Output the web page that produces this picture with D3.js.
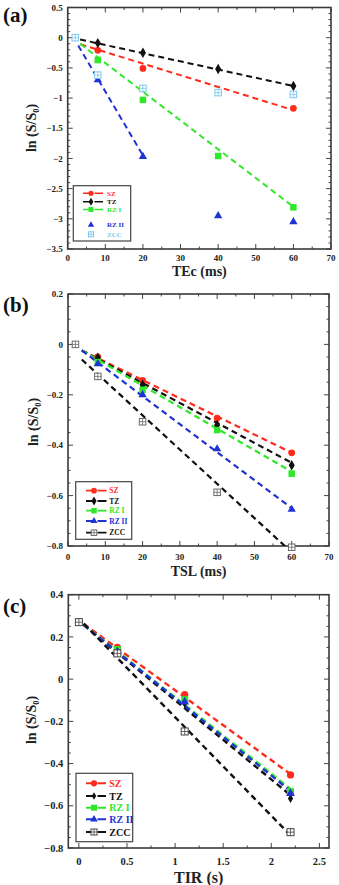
<!DOCTYPE html>
<html>
<head>
<meta charset="utf-8">
<script src="https://cdn.jsdelivr.net/npm/d3@7"></script>
<style>
  body { margin: 0; background: #fff; }
  text { font-family: "Liberation Serif", "DejaVu Serif", serif; font-weight: bold; }
</style>
</head>
<body>
<svg id="fig"></svg>
<script>
const W = 339, H = 885;

const seriesNames = ["SZ", "TZ", "RZ I", "RZ II", "ZCC"];

// panel (a) - TEc
const teX = [2, 8, 20, 40, 60];
const teSZ = [null, -0.21, -0.51, null, -1.17];
const teTZ = [null, -0.09, -0.25, -0.52, -0.80];
const teRZ1 = [null, -0.37, -1.03, -1.96, -2.81];
const teRZ2 = [null, -0.70, -1.97, -2.95, -3.05];
const teZCC = [0, -0.62, -0.84, -0.91, -0.94];
const teFitSZ = [[3.4, -0.11], [60, -1.20]];
const teFitTZ = [[3.3, -0.03], [60, -0.80]];
const teFitRZ1 = [[3.3, -0.10], [60, -2.80]];
const teFitRZ2 = [[2.8, -0.13], [20, -1.95]];
const teXTicks = [0, 10, 20, 30, 40, 50, 60, 70];
const teYTicks = [0.5, 0, -0.5, -1, -1.5, -2, -2.5, -3, -3.5];

// panel (b) - TSL
const tslX = [2, 8, 20, 40, 60];
const tslSZ = [null, -0.05, -0.143, -0.293, -0.43];
const tslTZ = [null, -0.053, -0.16, -0.32, -0.48];
const tslRZ1 = [null, -0.07, -0.18, -0.34, -0.513];
const tslRZ2 = [null, -0.077, -0.20, -0.415, -0.655];
const tslZCC = [0, -0.127, -0.307, -0.587, -0.805];
const tslFitSZ = [[3.7, -0.024], [60, -0.43]];
const tslFitTZ = [[3.7, -0.024], [60, -0.47]];
const tslFitRZ1 = [[3.7, -0.024], [60, -0.505]];
const tslFitRZ2 = [[3.7, -0.024], [60, -0.65]];
const tslFitZCC = [[3.7, -0.06], [60, -0.825]];
const tslXTicks = [0, 10, 20, 30, 40, 50, 60, 70];
const tslYTicks = [0.2, 0, -0.2, -0.4, -0.6, -0.8];

// panel (c) - TIR
const tirX = [0, 0.4, 1.1, 2.2];
const tirSZ = [null, 0.15, -0.073, -0.454];
const tirTZ = [null, 0.125, -0.115, -0.565];
const tirRZ1 = [null, 0.14, -0.097, -0.533];
const tirRZ2 = [null, 0.13, -0.108, -0.541];
const tirZCC = [0.27, 0.122, -0.248, -0.725];
const tirFitSZ = [[0.05, 0.262], [2.2, -0.45]];
const tirFitTZ = [[0.05, 0.256], [2.2, -0.55]];
const tirFitRZ1 = [[0.05, 0.258], [2.2, -0.52]];
const tirFitRZ2 = [[0.05, 0.257], [2.2, -0.53]];
const tirFitZCC = [[0.05, 0.263], [2.2, -0.74]];
const tirXTicks = [0, 0.5, 1, 1.5, 2, 2.5];
const tirXLabels = ["0", "0.5", "1", "1.5", "2", "2.5"];
const tirYTicks = [0.4, 0.2, 0, -0.2, -0.4, -0.6, -0.8];

const red = "#ff2b1c", green = "#2fe82a", blue = "#1f33d4", cyan = "#7cc9ec", gray = "#6a6a6a";

const svg = d3.select("#fig").attr("width", W).attr("height", H);

function marker(g, kind, x, y, size, color) {
  if (kind === "zcc") {
    const s = size;
    const m = g.append("g").attr("transform", `translate(${x},${y})`);
    m.append("rect").attr("x", -s / 2).attr("y", -s / 2).attr("width", s).attr("height", s)
      .attr("fill", "#fff").attr("stroke", color).attr("stroke-width", 1);
    m.append("path").attr("d", `M${-s / 2},0H${s / 2}M0,${-s / 2}V${s / 2}`)
      .attr("stroke", color).attr("stroke-width", 0.8);
    return;
  }
  const types = { circle: d3.symbolCircle, diamond: d3.symbolDiamond, square: d3.symbolSquare, triangle: d3.symbolTriangle };
  const area = { circle: size * size * 0.85, diamond: size * size * 0.75, square: size * size, triangle: size * size * 0.7 };
  g.append("path")
    .attr("d", d3.symbol().type(types[kind]).size(area[kind])())
    .attr("transform", `translate(${x},${y})`)
    .attr("fill", color);
}

function drawPanel(p) {
  const g = svg.append("g");
  const x = d3.scaleLinear().domain(p.xDomain).range([p.left, p.right]);
  const y = d3.scaleLinear().domain(p.yDomain).range([p.bottom, p.top]);

  const clipId = "clip" + p.id;
  svg.append("clipPath").attr("id", clipId)
    .append("rect").attr("x", p.left).attr("y", p.top)
    .attr("width", p.right - p.left).attr("height", p.bottom - p.top);

  // minor + major ticks, inward on all four sides
  const tk = g.append("g").attr("stroke", "#444").attr("stroke-width", 1);
  const xMinor = d3.range(p.xDomain[0], p.xDomain[1] + 1e-9, p.xMinor)
    .map(v => Math.round(v / p.xMinor) * p.xMinor).filter(v => v >= p.xDomain[0] && v <= p.xDomain[1]);
  const yMinor = d3.range(p.yDomain[0], p.yDomain[1] + 1e-9, p.yMinor);
  xMinor.forEach(v => {
    const major = p.xTicks.some(t => Math.abs(t - v) < 1e-6);
    const L = major ? 5 : 2.5;
    tk.append("line").attr("x1", x(v)).attr("x2", x(v)).attr("y1", p.bottom).attr("y2", p.bottom - L);
    tk.append("line").attr("x1", x(v)).attr("x2", x(v)).attr("y1", p.top).attr("y2", p.top + L);
  });
  yMinor.forEach(v => {
    const major = p.yTicks.some(t => Math.abs(t - v) < 1e-6);
    const L = major ? 5 : 2.5;
    tk.append("line").attr("y1", y(v)).attr("y2", y(v)).attr("x1", p.left).attr("x2", p.left + L);
    tk.append("line").attr("y1", y(v)).attr("y2", y(v)).attr("x1", p.right).attr("x2", p.right - L);
  });

  g.append("rect").attr("x", p.left).attr("y", p.top)
    .attr("width", p.right - p.left).attr("height", p.bottom - p.top)
    .attr("fill", "none").attr("stroke", "#3a3a3a").attr("stroke-width", 1.6);

  // tick labels
  g.selectAll(".yl").data(p.yTicks).enter().append("text")
    .attr("x", p.left - 5).attr("y", d => y(d)).attr("dy", "0.35em")
    .attr("text-anchor", "end").attr("font-size", p.tickFont).attr("fill", "#222")
    .text(d => d3.format("")(d));
  g.selectAll(".xl").data(p.xTicks).enter().append("text")
    .attr("x", d => x(d)).attr("y", p.xLabelY)
    .attr("text-anchor", "middle").attr("font-size", p.tickFont).attr("fill", "#222")
    .text((d, i) => p.xLabels ? p.xLabels[i] : d);

  // axis titles
  g.append("text").attr("x", (p.left + p.right) / 2).attr("y", p.titleY)
    .attr("text-anchor", "middle").attr("font-size", p.titleFont).attr("fill", "#222")
    .text(p.xTitle);
  const yt = g.append("text")
    .attr("transform", `translate(${p.yTitleX},${p.yTitleY}) rotate(-90)`)
    .attr("text-anchor", "middle").attr("font-size", p.yTitleFont).attr("fill", "#222");
  yt.append("tspan").text("ln (S/S");
  yt.append("tspan").attr("font-size", p.yTitleFont * 0.6).attr("dy", 3).text("0");
  yt.append("tspan").attr("dy", -3).text(")");

  g.append("text").attr("x", 3).attr("y", p.panelY).attr("font-size", 21).attr("fill", "#111").text(p.panel);

  // fitted dashed lines
  const lines = g.append("g").attr("clip-path", `url(#${clipId})`);
  p.series.forEach(s => {
    if (!s.fit) return;
    lines.append("line")
      .attr("x1", x(s.fit[0][0])).attr("y1", y(s.fit[0][1]))
      .attr("x2", x(s.fit[1][0])).attr("y2", y(s.fit[1][1]))
      .attr("stroke", s.lineColor || s.color).attr("stroke-width", p.lineW)
      .attr("stroke-dasharray", p.dash);
  });

  // points
  p.series.forEach(s => {
    s.values.forEach((v, i) => {
      if (v === null) return;
      marker(g, s.shape, x(p.xs[i]), y(v), p.markSize * (s.scale || 1), s.color);
    });
  });

  // legend
  const lg = g.append("g");
  lg.append("rect").attr("x", p.legend.x0).attr("y", p.legend.y0)
    .attr("width", p.legend.x1 - p.legend.x0).attr("height", p.legend.y1 - p.legend.y0)
    .attr("fill", "#fff").attr("stroke", "#444").attr("stroke-width", 1.2);
  p.series.forEach((s, i) => {
    const ly = p.legend.rows[i];
    if (s.legendLine !== false) {
      lg.append("line").attr("x1", p.legend.lx0).attr("x2", p.legend.lx1)
        .attr("y1", ly).attr("y2", ly)
        .attr("stroke", s.lineColor || s.color).attr("stroke-width", p.lineW * 0.8)
        .attr("stroke-dasharray", "9,2.5");
    }
    marker(lg, s.shape, p.legend.mx, ly, p.legendMark * (s.scale || 1), s.color);
    lg.append("text").attr("x", p.legend.tx).attr("y", ly).attr("dy", "0.35em")
      .attr("font-size", p.legendFont).attr("fill", s.textColor || s.color).text(s.name);
  });
}

drawPanel({
  id: "a", panel: "(a)", panelY: 22,
  left: 67.7, right: 331, top: 7.5, bottom: 249,
  xDomain: [0, 70], yDomain: [-3.5, 0.5], xMinor: 5, yMinor: 0.1,
  xTicks: teXTicks, yTicks: teYTicks, xs: teX,
  tickFont: 9, xLabelY: 260.5, titleY: 275.5, titleFont: 14, xTitle: "TEc (ms)",
  yTitleX: 36, yTitleY: 128, yTitleFont: 14,
  lineW: 2, dash: "6,4", markSize: 6.5, legendMark: 5, legendFont: 7,
  series: [
    { name: seriesNames[0], shape: "circle", color: red, values: teSZ, fit: teFitSZ },
    { name: seriesNames[1], shape: "diamond", color: "#111", values: teTZ, fit: teFitTZ },
    { name: seriesNames[2], shape: "square", color: green, values: teRZ1, fit: teFitRZ1 },
    { name: seriesNames[3], shape: "triangle", color: blue, values: teRZ2, fit: teFitRZ2, legendLine: false },
    { name: seriesNames[4], shape: "zcc", color: cyan, values: teZCC, legendLine: false }
  ],
  legend: { x0: 73.3, x1: 130.7, y0: 185.7, y1: 241, lx0: 83, lx1: 103, mx: 91, tx: 107,
            rows: [193.3, 201.7, 209.5, 225, 234.3] }
});

drawPanel({
  id: "b", panel: "(b)", panelY: 312,
  left: 68, right: 329, top: 294, bottom: 546,
  xDomain: [0, 70], yDomain: [-0.8, 0.2], xMinor: 5, yMinor: 0.05,
  xTicks: tslXTicks, yTicks: tslYTicks, xs: tslX,
  tickFont: 9, xLabelY: 559.5, titleY: 575.5, titleFont: 14, xTitle: "TSL (ms)",
  yTitleX: 38, yTitleY: 422, yTitleFont: 14,
  lineW: 2.2, dash: "6,4", markSize: 6.5, legendMark: 5.5, legendFont: 7.5,
  series: [
    { name: seriesNames[0], shape: "circle", color: red, values: tslSZ, fit: tslFitSZ },
    { name: seriesNames[1], shape: "diamond", color: "#111", values: tslTZ, fit: tslFitTZ },
    { name: seriesNames[2], shape: "square", color: green, values: tslRZ1, fit: tslFitRZ1 },
    { name: seriesNames[3], shape: "triangle", color: blue, values: tslRZ2, fit: tslFitRZ2 },
    { name: seriesNames[4], shape: "zcc", color: gray, lineColor: "#111", textColor: "#111", values: tslZCC, fit: tslFitZCC }
  ],
  legend: { x0: 75.7, x1: 131.7, y0: 481.7, y1: 539.3, lx0: 86, lx1: 106.7, mx: 94, tx: 109.3,
            rows: [490.7, 501, 510.7, 521, 532.7] }
});

drawPanel({
  id: "c", panel: "(c)", panelY: 613,
  left: 68.3, right: 329, top: 594.7, bottom: 848,
  xDomain: [-0.11, 2.6], yDomain: [-0.8, 0.4], xMinor: 0.25, yMinor: 0.05,
  xTicks: tirXTicks, xLabels: tirXLabels, yTicks: tirYTicks, xs: tirX,
  tickFont: 10.5, xLabelY: 864.5, titleY: 883, titleFont: 16, xTitle: "TIR (s)",
  yTitleX: 36, yTitleY: 720, yTitleFont: 14,
  lineW: 2.4, dash: "6,4", markSize: 7, legendMark: 6, legendFont: 10,
  series: [
    { name: seriesNames[0], shape: "circle", color: red, values: tirSZ, fit: tirFitSZ },
    { name: seriesNames[1], shape: "diamond", color: "#111", values: tirTZ, fit: tirFitTZ, scale: 0.8 },
    { name: seriesNames[2], shape: "square", color: green, values: tirRZ1, fit: tirFitRZ1 },
    { name: seriesNames[3], shape: "triangle", color: blue, values: tirRZ2, fit: tirFitRZ2 },
    { name: seriesNames[4], shape: "zcc", color: "#444", lineColor: "#111", textColor: "#111", values: tirZCC, fit: tirFitZCC }
  ],
  legend: { x0: 76, x1: 132.7, y0: 773.3, y1: 841.7, lx0: 86, lx1: 106, mx: 94, tx: 109.3,
            rows: [783.3, 796, 807.7, 819.3, 832] }
});
</script>
</body>
</html>
